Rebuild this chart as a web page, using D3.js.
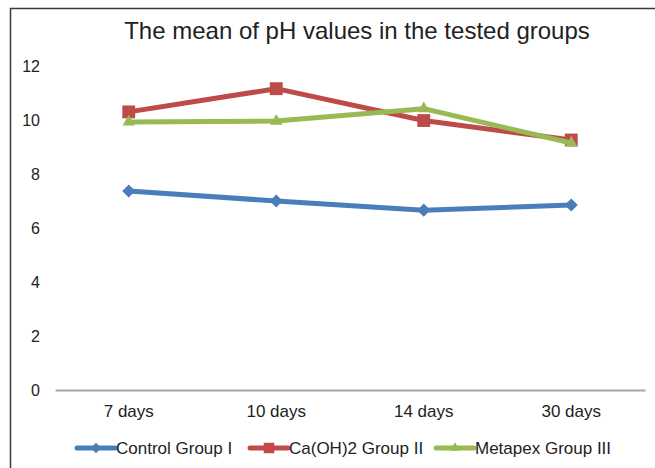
<!DOCTYPE html>
<html><head><meta charset="utf-8">
<script src="https://cdn.jsdelivr.net/npm/d3@7"></script>
<style>body{margin:0;background:#fff}svg{display:block}</style>
</head><body>
<svg id="c" width="655" height="468"></svg>
<script>
const categories = ["7 days","10 days","14 days","30 days"];
const controlGroupI = [7.37, 7.0, 6.66, 6.85];
const caOH2GroupII = [10.3, 11.16, 9.98, 9.26];
const metapexGroupIII = [9.93, 9.96, 10.42, 9.15];
const yTicks = [0,2,4,6,8,10,12];
const seriesNames = ["Control Group I","Ca(OH)2 Group II","Metapex Group III"];

const series = [
  {name: seriesNames[0], values: controlGroupI, color: "#4A7EBB", marker: "diamond"},
  {name: seriesNames[1], values: caOH2GroupII, color: "#BE4B48", marker: "square"},
  {name: seriesNames[2], values: metapexGroupIII, color: "#98B954", marker: "triangle"}
];

const svg = d3.select("#c");
const font = "'Liberation Sans', Arial, sans-serif";

// frame
svg.append("path").attr("d","M10.5,480 L10.5,8.5 L670,8.5").attr("fill","none").attr("stroke","#3a3a3a").attr("stroke-width",1.5);

const x = d3.scaleBand().domain(categories).range([55,645]);
const y = d3.scaleLinear().domain([0,12]).range([390,66]);

svg.append("text").attr("x",357).attr("y",39).attr("text-anchor","middle")
  .attr("font-family",font).attr("font-size",24).attr("fill","#222")
  .text("The mean of pH values in the tested groups");

// y axis labels
const yAxis = d3.axisLeft(y).tickValues(yTicks).tickSize(0).tickPadding(0);
const gy = svg.append("g").attr("transform","translate(40,0)").call(yAxis);
gy.select(".domain").remove();
gy.selectAll("text").attr("font-family",font).attr("font-size",16).attr("fill","#222");

// x axis
const xAxis = d3.axisBottom(x).tickSize(0).tickPadding(15);
const gx = svg.append("g").attr("transform","translate(0,390)").call(xAxis);
gx.select(".domain").attr("stroke","#a6a6a6").attr("stroke-width",2);
gx.selectAll("text").attr("font-family",font).attr("font-size",17).attr("fill","#222");

const cx = d => x(d) + x.bandwidth()/2;
const line = d3.line().x((d,i)=>cx(categories[i])).y(d=>y(d));

const sym = {
  diamond: d3.symbol().type(d3.symbolDiamond2).size(110),
  square: d3.symbol().type(d3.symbolSquare).size(165),
  triangle: d3.symbol().type(d3.symbolTriangle2).size(110)
};

series.forEach(s=>{
  svg.append("path").datum(s.values).attr("d",line).attr("fill","none")
    .attr("stroke",s.color).attr("stroke-width",5).attr("stroke-linejoin","round");
  svg.selectAll(null).data(s.values).enter().append("path")
    .attr("d", sym[s.marker]())
    .attr("transform",(d,i)=>`translate(${cx(categories[i])},${y(d)})`)
    .attr("fill",s.color);
});

// legend
const legX = [77, 250, 436];
series.forEach((s,i)=>{
  const g = svg.append("g").attr("transform",`translate(${legX[i]},448)`);
  g.append("line").attr("x1",0).attr("x2",38).attr("y1",0).attr("y2",0)
    .attr("stroke",s.color).attr("stroke-width",5).attr("stroke-linecap","round");
  g.append("path").attr("d", d3.symbol().type(
      s.marker==="diamond"?d3.symbolDiamond2:s.marker==="square"?d3.symbolSquare:d3.symbolTriangle2)
      .size(s.marker==="square"?110:70)()).attr("transform","translate(19,0)").attr("fill",s.color);
  g.append("text").attr("x",39).attr("y",6).attr("font-family",font).attr("font-size",17)
    .attr("fill","#222").text(s.name);
});
</script>
</body></html>
